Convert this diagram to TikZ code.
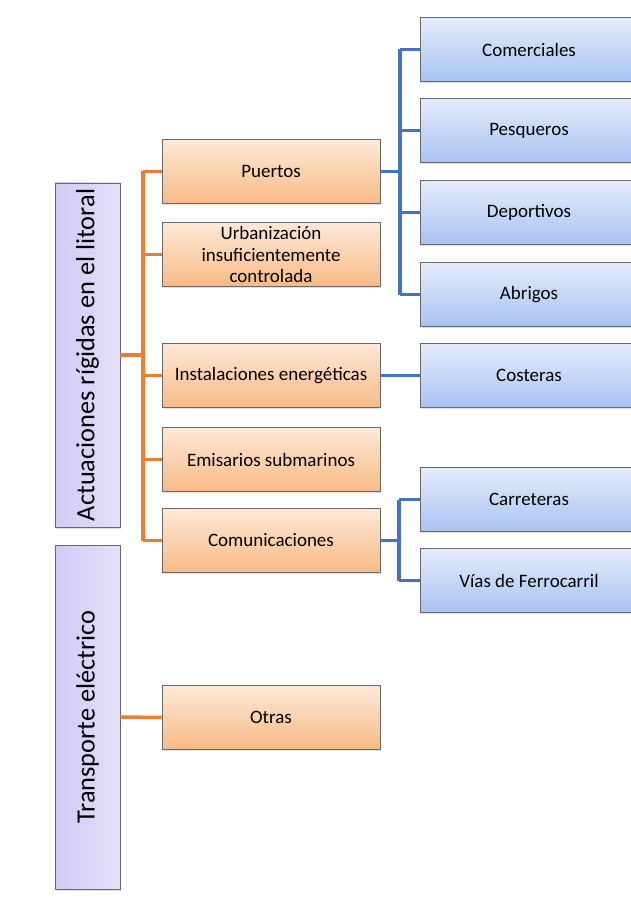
\documentclass[tikz,border=0pt]{standalone}
\usepackage{fontspec}
\setmainfont{Carlito}
\usetikzlibrary{positioning, shadows}
\definecolor{lineorange}{RGB}{237,125,49}
\definecolor{lineblue}{RGB}{68,114,196}
\definecolor{orangetop}{RGB}{253,233,215}
\definecolor{orangebot}{RGB}{248,186,134}
\definecolor{bluetop}{RGB}{228,236,251}
\definecolor{bluebot}{RGB}{168,195,242}
\definecolor{purpletop}{RGB}{228,222,250}
\definecolor{purplebot}{RGB}{212,202,246}
\definecolor{boxedge}{RGB}{105,105,105}

\begin{document}
\begin{tikzpicture}[x=0.02cm, y=-0.02cm,
  catbox/.style={draw=boxedge, thin, top color=orangetop, bottom color=orangebot,
    minimum width=4.36cm, minimum height=1.28cm, align=center, inner sep=2pt,
    font=\fontsize{10.8}{12}\selectfont,
    drop shadow={opacity=0.25, shadow xshift=0.5pt, shadow yshift=-0.9pt}},
  subbox/.style={catbox, top color=bluetop, bottom color=bluebot},
  rootbox/.style={draw=boxedge, thin, left color=purplebot, right color=purpletop,
    rotate=90, minimum width=6.88cm, minimum height=1.3cm,
    font=\fontsize{15}{17}\selectfont,
    drop shadow={opacity=0.25, shadow xshift=0.5pt, shadow yshift=-0.9pt}},
  oline/.style={lineorange, line width=2pt},
  bline/.style={lineblue, line width=2pt}]

  % 画布范围
  \useasboundingbox (0,0) rectangle (631,898);

  % 左侧主类
  \node[rootbox] (actua) at (87.5,355) {Actuaciones rígidas en el litoral};
  \node[rootbox] (transp) at (87.5,717) {Transporte eléctrico};

  % 中间一级分类
  \node[catbox] (puertos) at (271,171.5) {Puertos};
  \node[catbox] (urban) at (271,254.5) {Urbanización\\insuficientemente\\controlada};
  \node[catbox] (instal) at (271,375.5) {Instalaciones energéticas};
  \node[catbox] (emis) at (271,459.5) {Emisarios submarinos};
  \node[catbox] (comun) at (271,540.5) {Comunicaciones};
  \node[catbox] (otras) at (271,717.5) {Otras};

  % 右侧二级分类
  \node[subbox] (comer) at (529,49.5) {Comerciales};
  \node[subbox] (pesq) at (529,130.5) {Pesqueros};
  \node[subbox] (deport) at (529,212.5) {Deportivos};
  \node[subbox] (abrig) at (529,294.5) {Abrigos};
  \node[subbox] (coster) at (529,375.5) {Costeras};
  \node[subbox] (carret) at (529,499.5) {Carreteras};
  \node[subbox] (vias) at (529,580.5) {Vías de Ferrocarril};

  % 橙色连线
  \coordinate (obus) at (143,0);
  \draw[oline] (actua.south) -- (actua.south -| obus);
  \draw[oline] (obus |- puertos.west) -- (obus |- comun.west);
  \foreach \n in {puertos, urban, instal, emis, comun}
    \draw[oline] (obus |- \n.west) -- (\n.west);
  \draw[oline] (transp.south) -- (otras.west);

  % 蓝色连线（Puertos）
  \coordinate (pbus) at (400,0);
  \draw[bline] (puertos.east) -- (puertos.east -| pbus);
  \draw[bline] (pbus |- comer.west) -- (pbus |- abrig.west);
  \foreach \n in {comer, pesq, deport, abrig}
    \draw[bline] (pbus |- \n.west) -- (\n.west);

  % 蓝色连线（Instalaciones, Comunicaciones）
  \draw[bline] (instal.east) -- (coster.west);
  \coordinate (cbus) at (399,0);
  \draw[bline] (comun.east) -- (comun.east -| cbus);
  \draw[bline] (cbus |- carret.west) -- (cbus |- vias.west);
  \foreach \n in {carret, vias}
    \draw[bline] (cbus |- \n.west) -- (\n.west);

\end{tikzpicture}
\end{document}
